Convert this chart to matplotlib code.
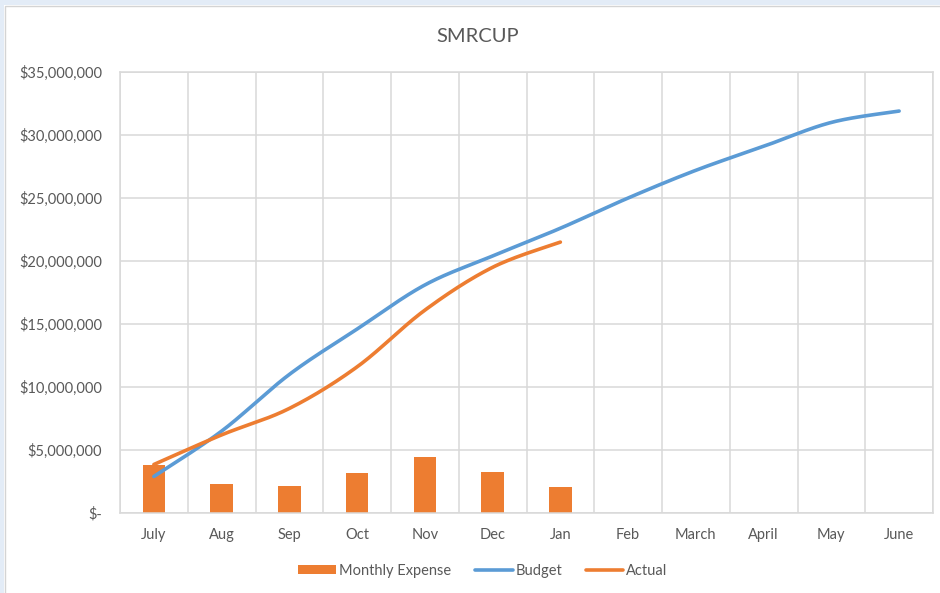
import numpy as np
import matplotlib
matplotlib.use("Agg")
import matplotlib.pyplot as plt
from matplotlib.patches import Rectangle
from matplotlib.ticker import FuncFormatter, MultipleLocator

# data
months = ['July', 'Aug', 'Sep', 'Oct', 'Nov', 'Dec', 'Jan',
          'Feb', 'March', 'April', 'May', 'June']
monthly_expense = [3.8e6, 2.3e6, 2.15e6, 3.2e6, 4.45e6, 3.25e6, 2.1e6]
budget = [2.9e6, 6.5e6, 11.0e6, 14.6e6, 18.1e6, 20.4e6, 22.6e6,
          25.0e6, 27.2e6, 29.1e6, 31.0e6, 31.9e6]
actual = [3.85e6, 6.2e6, 8.3e6, 11.6e6, 16.1e6, 19.5e6, 21.5e6]

orange = '#ED7D31'
blue = '#5B9BD5'
grid_c = '#D9D9D9'
text_c = '#595959'

plt.rcParams['font.family'] = ['Lato', 'DejaVu Sans']


def smooth(xs, ys, n=30):
    # Bezier smoothing through the points, like Excel's smoothed line
    xs = np.asarray(xs, float)
    ys = np.asarray(ys, float)
    px, py = [], []
    for i in range(len(xs) - 1):
        x0, y0 = xs[max(i - 1, 0)], ys[max(i - 1, 0)]
        x1, y1 = xs[i], ys[i]
        x2, y2 = xs[i + 1], ys[i + 1]
        x3, y3 = xs[min(i + 2, len(xs) - 1)], ys[min(i + 2, len(xs) - 1)]
        c1x, c1y = x1 + (x2 - x0) / 6, y1 + (y2 - y0) / 6
        c2x, c2y = x2 - (x3 - x1) / 6, y2 - (y3 - y1) / 6
        t = np.linspace(0, 1, n)
        px.extend((1-t)**3*x1 + 3*(1-t)**2*t*c1x + 3*(1-t)*t**2*c2x + t**3*x2)
        py.extend((1-t)**3*y1 + 3*(1-t)**2*t*c1y + 3*(1-t)*t**2*c2y + t**3*y2)
    return px, py


fig = plt.figure(figsize=(9.4, 5.93), dpi=100)
fig.patch.set_facecolor('white')

# screenshot frame: light blue strip top/left and grey chart border
fig.patches.append(Rectangle((0, 1 - 5/593), 1, 5/593, transform=fig.transFigure,
                             facecolor='#E3ECF7', edgecolor='none', zorder=0))
fig.patches.append(Rectangle((0, 0), 4/940, 1, transform=fig.transFigure,
                             facecolor='#E3ECF7', edgecolor='none', zorder=0))
fig.patches.append(Rectangle((5/940, -0.01), 1.0, 1 - 5/593 + 0.01 - 1/593,
                             transform=fig.transFigure, facecolor='none',
                             edgecolor='#D4D4D4', linewidth=1, zorder=0))

ax = fig.add_axes([120/940, 1 - 513/593, (933 - 120)/940, (513 - 72)/593])

x = np.arange(len(months))
bars = ax.bar(x[:len(monthly_expense)], monthly_expense, width=0.33, color=orange,
              label='Monthly Expense', zorder=2)

bx, by = smooth(x, budget)
l_budget, = ax.plot(bx, by, color=blue, linewidth=2.6, solid_capstyle='round',
                    label='Budget', zorder=3)
axx, ayy = smooth(x[:len(actual)], actual)
l_actual, = ax.plot(axx, ayy, color=orange, linewidth=2.6, solid_capstyle='round',
                    label='Actual', zorder=3)

ax.set_xlim(-0.5, len(months) - 0.5)
ax.set_ylim(0, 35e6)
ax.yaxis.set_major_locator(MultipleLocator(5e6))
ax.yaxis.set_major_formatter(FuncFormatter(
    lambda v, p: '$-' if v == 0 else '${:,.0f}'.format(v)))
ax.set_xticks(x)
ax.set_xticklabels(months)
ax.set_xticks(np.arange(-0.5, len(months), 1), minor=True)

ax.grid(axis='y', which='major', color=grid_c, linewidth=1.1, zorder=0)
ax.grid(axis='x', which='minor', color=grid_c, linewidth=1.1, zorder=0)
ax.set_axisbelow(True)
for s in ax.spines.values():
    s.set_color(grid_c)
    s.set_linewidth(1.1)

ax.tick_params(axis='both', which='both', length=0, colors=text_c, labelsize=10.5)
ax.tick_params(axis='y', pad=13)
ax.tick_params(axis='x', pad=11)

fig.text(478/940, 1 - 37/593, 'SMRCUP', ha='center', va='center',
         fontsize=14.5, color=text_c)

fig.legend([bars, l_budget, l_actual], ['Monthly Expense', 'Budget', 'Actual'],
           loc='center', bbox_to_anchor=(483/940, 1 - 571/593), ncol=3,
           frameon=False, fontsize=10.5, labelcolor=text_c, handleheight=0.55,
           handlelength=2.6, handletextpad=0.2, columnspacing=1.6)

fig.savefig('out.png', dpi=100)
